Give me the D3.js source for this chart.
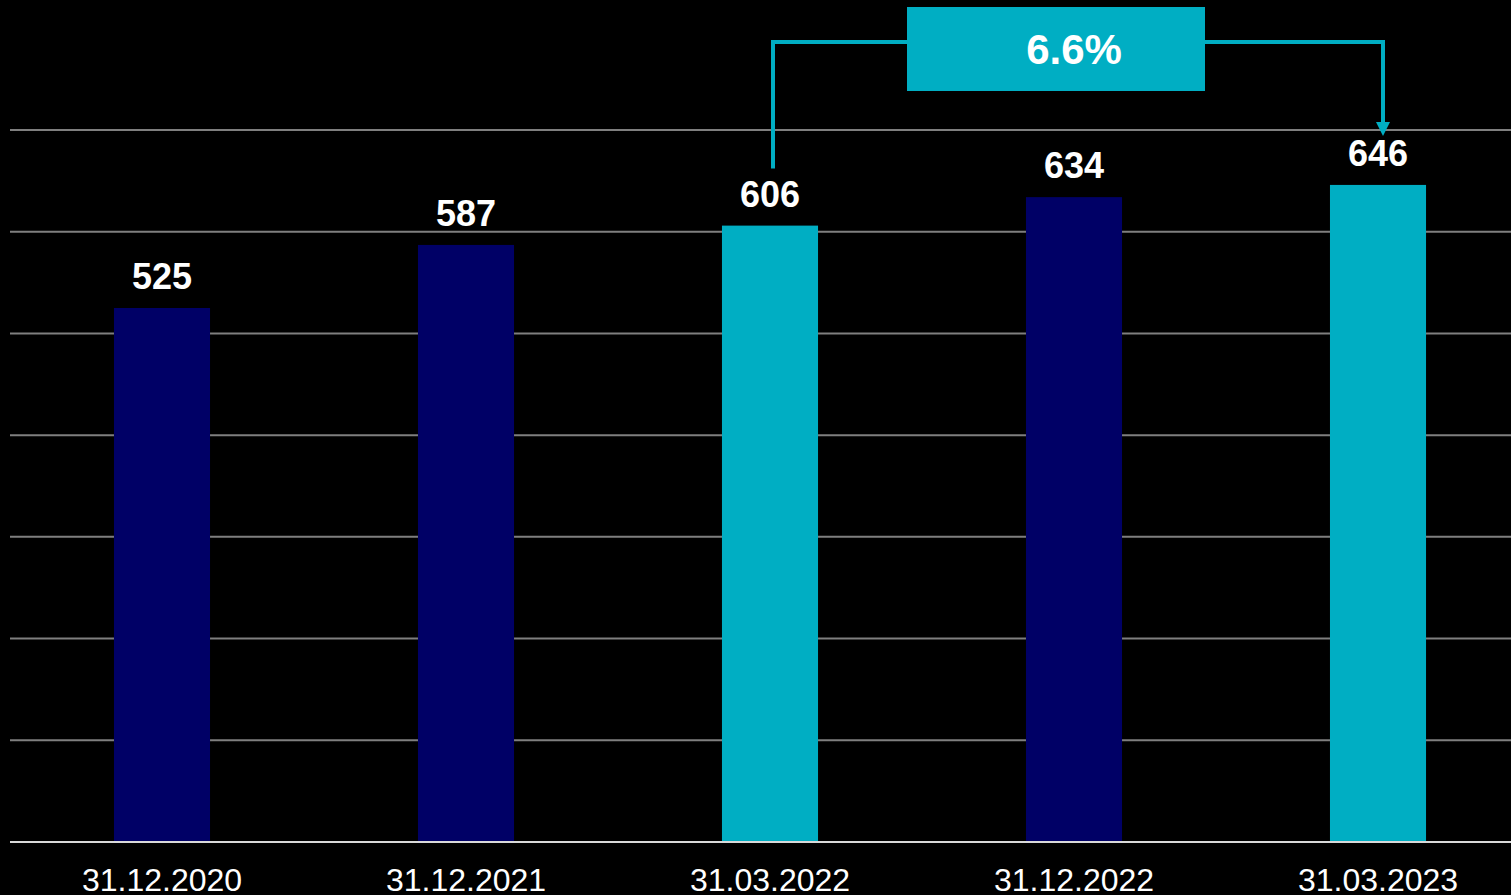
<!DOCTYPE html>
<html>
<head>
<meta charset="utf-8">
<script src="https://cdn.jsdelivr.net/npm/d3@7"></script>
<style>
  html, body { margin: 0; padding: 0; background: #000; }
  svg { display: block; }
</style>
</head>
<body>
<svg id="chart" width="1511" height="895"></svg>
<script>
const categories = ['31.12.2020', '31.12.2021', '31.03.2022', '31.12.2022', '31.03.2023'];
const values = [525, 587, 606, 634, 646];
const highlighted = [false, false, true, false, true];
const yTicks = [100, 200, 300, 400, 500, 600, 700];
const growthLabel = '6.6%';

const navy = '#000066';
const teal = '#00AEC3';

const svg = d3.select('#chart');

const xScale = d3.scaleBand()
                .domain(categories)
                .range([10, 1530])
                .paddingInner(0.684)
                .paddingOuter(0.342);

const yScale = d3.scaleLinear()
                .domain([0, 700])
                .range([842, 130]);

// gridlines
svg.selectAll('line.grid')
   .data(yTicks)
   .enter().append('line')
   .attr('class', 'grid')
   .attr('x1', 10).attr('x2', 1511)
   .attr('y1', d => yScale(d)).attr('y2', d => yScale(d))
   .attr('stroke', '#7f7f7f')
   .attr('stroke-width', 2);

// bars
svg.selectAll('rect.bar')
   .data(values)
   .enter().append('rect')
   .attr('class', 'bar')
   .attr('x', (d, i) => xScale(categories[i]))
   .attr('y', d => yScale(d))
   .attr('width', xScale.bandwidth())
   .attr('height', d => yScale(0) - yScale(d))
   .attr('fill', (d, i) => highlighted[i] ? teal : navy);

// baseline
svg.append('line')
   .attr('x1', 10).attr('x2', 1511)
   .attr('y1', yScale(0)).attr('y2', yScale(0))
   .attr('stroke', '#d9d9d9')
   .attr('stroke-width', 2);

// value labels
svg.selectAll('text.value')
   .data(values)
   .enter().append('text')
   .attr('class', 'value')
   .attr('x', (d, i) => xScale(categories[i]) + xScale.bandwidth() / 2)
   .attr('y', d => yScale(d) - 19)
   .attr('text-anchor', 'middle')
   .attr('font-family', 'Liberation Sans, Arial, sans-serif')
   .attr('font-weight', 'bold')
   .attr('font-size', 36)
   .attr('fill', '#fff')
   .text(d => d);

// category labels (cut by the bottom edge, as in the original slide)
svg.selectAll('text.cat')
   .data(categories)
   .enter().append('text')
   .attr('class', 'cat')
   .attr('x', d => xScale(d) + xScale.bandwidth() / 2)
   .attr('y', 891)
   .attr('text-anchor', 'middle')
   .attr('font-family', 'Liberation Sans, Arial, sans-serif')
   .attr('font-size', 32)
   .attr('fill', '#fff')
   .text(d => d);

// growth bracket from 31.03.2022 to 31.03.2023
const fromX = xScale(categories[2]) + xScale.bandwidth() / 2 + 3;
const toX = xScale(categories[4]) + xScale.bandwidth() / 2 + 5;
const bracketY = 42;

svg.append('path')
   .attr('d', `M${fromX},${yScale(values[2]) - 57} V${bracketY} H${toX} V${yScale(values[4]) - 62}`)
   .attr('fill', 'none')
   .attr('stroke', teal)
   .attr('stroke-width', 4);

const tipY = yScale(values[4]) - 49;
svg.append('path')
   .attr('d', `M${toX - 7},${tipY - 14} L${toX + 7},${tipY - 14} L${toX},${tipY} Z`)
   .attr('fill', teal);

const boxX = xScale(categories[3]) + xScale.bandwidth() / 2 - 167;
svg.append('rect')
   .attr('x', boxX)
   .attr('y', 7)
   .attr('width', 298)
   .attr('height', 84)
   .attr('fill', teal);

svg.append('text')
   .attr('x', boxX + 167)
   .attr('y', 64)
   .attr('text-anchor', 'middle')
   .attr('font-family', 'Liberation Sans, Arial, sans-serif')
   .attr('font-weight', 'bold')
   .attr('font-size', 42)
   .attr('fill', '#fff')
   .text(growthLabel);
</script>
</body>
</html>
